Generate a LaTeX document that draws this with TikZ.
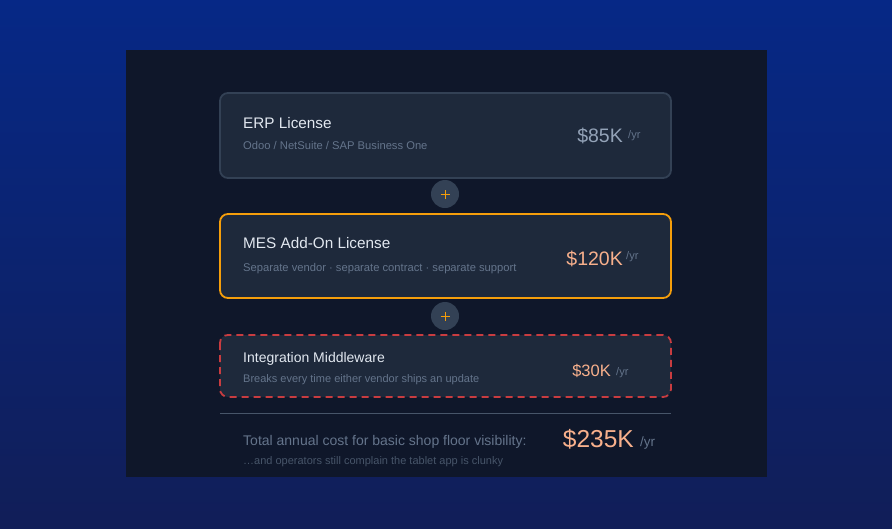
\documentclass[tikz,border=0pt]{standalone}
\usepackage{fontspec}
\setmainfont{Liberation Sans}
\definecolor{bgtop}{RGB}{6,40,134}
\definecolor{bgbot}{RGB}{17,30,88}
\definecolor{panel}{RGB}{15,23,42}
\definecolor{card}{RGB}{30,41,59}
\definecolor{cardline}{RGB}{51,65,85}
\definecolor{amber}{RGB}{245,158,11}
\definecolor{redash}{RGB}{200,60,64}
\definecolor{titlec}{RGB}{226,232,240}
\definecolor{subc}{RGB}{100,116,139}
\definecolor{grayprice}{RGB}{148,163,184}
\definecolor{peach}{RGB}{248,176,140}
\definecolor{foot}{RGB}{71,85,105}
\definecolor{plusbg}{RGB}{51,65,85}
\begin{document}
\begin{tikzpicture}[x=1pt,y=-1pt,
  txt/.style={inner sep=0pt,anchor=base west},
  ptxt/.style={inner sep=0pt,anchor=base east},
  card/.style={fill=card,rounded corners=8pt,line width=1.8pt},
  plusc/.style={circle,fill=plusbg,minimum size=28pt,inner sep=0pt},
  plusmark/.style={amber,line width=1pt}]
\useasboundingbox (0,0) rectangle (892,528);
\shade[top color=bgtop,bottom color=bgbot] (0,0) rectangle (892,528);
\fill[panel] (126,50) rectangle (767,477);
% card 1
\draw[card,draw=cardline] (220,93) rectangle (671,178);
\node[txt,font=\fontsize{15.3}{18}\selectfont,text=titlec] (t1) at (243,128) {ERP License};
\node[txt,font=\fontsize{11.2}{13}\selectfont,text=subc] (s1) at (243,149) {Odoo / NetSuite / SAP Business One};
\node[ptxt,font=\fontsize{19.5}{22}\selectfont,text=grayprice] (p1) at (623,142) {\$85K};
\node[txt,font=\fontsize{11}{13}\selectfont,text=subc] (y1) at (628,138) {/yr};
% plus 1
\node[plusc] (plus1) at (445,194) {};
\draw[plusmark] ([xshift=-4.5pt]plus1.center) -- ([xshift=4.5pt]plus1.center)
                ([yshift=-4.5pt]plus1.center) -- ([yshift=4.5pt]plus1.center);
% card 2
\draw[card,draw=amber] (220,214) rectangle (671,298);
\node[txt,font=\fontsize{15.3}{18}\selectfont,text=titlec] (t2) at (243,248) {MES Add-On License};
\node[txt,font=\fontsize{11.2}{13}\selectfont,text=subc] (s2) at (243,271) {Separate vendor · separate contract · separate support};
\node[ptxt,font=\fontsize{19.5}{22}\selectfont,text=peach] (p2) at (623,265) {\$120K};
\node[txt,font=\fontsize{11}{13}\selectfont,text=subc] (y2) at (626,259) {/yr};
% plus 2
\node[plusc] (plus2) at (445,316) {};
\draw[plusmark] ([xshift=-4.5pt]plus2.center) -- ([xshift=4.5pt]plus2.center)
                ([yshift=-4.5pt]plus2.center) -- ([yshift=4.5pt]plus2.center);
% card 3
\draw[card,draw=redash,dash pattern=on 7pt off 5pt] (220,335) rectangle (671,397);
\node[txt,font=\fontsize{14}{17}\selectfont,text=titlec] (t3) at (243,362) {Integration Middleware};
\node[txt,font=\fontsize{11}{13}\selectfont,text=subc] (s3) at (243,382) {Breaks every time either vendor ships an update};
\node[ptxt,font=\fontsize{16.5}{20}\selectfont,text=peach] (p3) at (611,376) {\$30K};
\node[txt,font=\fontsize{11}{13}\selectfont,text=subc] (y3) at (616,375) {/yr};
% separator
\draw[foot,line width=1pt] (220,413) -- (671,413);
% total
\node[txt,font=\fontsize{14}{17}\selectfont,text=subc] (tt) at (243,445) {Total annual cost for basic shop floor visibility:};
\node[ptxt,font=\fontsize{24.5}{28}\selectfont,text=peach] (pt) at (634,447.5) {\$235K};
\node[txt,font=\fontsize{13.5}{16}\selectfont,text=subc] (yt) at (640,446) {/yr};
\node[txt,font=\fontsize{11}{13}\selectfont,text=foot] (ft) at (243,464) {…and operators still complain the tablet app is clunky};
\end{tikzpicture}
\end{document}
